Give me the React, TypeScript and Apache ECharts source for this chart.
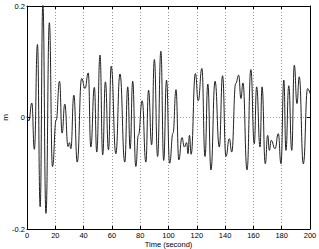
import React, { useEffect, useRef } from "react";
import * as echarts from "echarts";

// Time (s) of each local extremum / shape point, and displacement (m)
const times: number[] = [
  0, 1.3, 3.4, 5.2, 7.4, 9.3, 11.2, 13.4, 15.8, 18, 20.6, 23, 24.8, 26.7, 29, 30, 31, 33.1, 35.5,
  38.6, 41, 43.3, 45.1, 47.6, 49.3, 51.6, 53.5, 55.4, 57.6, 59.5, 62.8, 65.7, 69.1, 71.2, 72.9,
  74.7, 76.9, 78.7, 81.4, 84, 85.9, 88.1, 90, 92.3, 94.6, 96.6, 98.6, 100.8, 103.2, 105.3, 107.3,
  109.5, 111.2, 112.8, 113.8, 114.8, 116, 119, 121, 123.6, 125.8, 127.8, 130, 132.9, 135.9, 138.2,
  140.6, 143, 144.7, 147.5, 149.6, 151.2, 152.6, 155.5, 158.2, 160.6, 162.3, 164.7, 166.1, 168.4,
  170.1, 171.3, 172.6, 175.3, 177.6, 179.5, 181.5, 183, 185, 187.1, 188.9, 190.8, 192.4, 195.3,
  198.3, 200,
];
const values: number[] = [
  0.002, -0.006, 0.026, -0.057, 0.131, -0.16, 0.205, -0.172, 0.17, -0.088, -0.005, 0.065, -0.028,
  0.024, -0.052, -0.045, -0.056, 0.04, -0.08, 0.07, 0.052, 0.08, -0.053, 0.054, -0.062, 0.112,
  -0.067, 0.064, -0.058, 0.092, -0.065, 0.078, -0.08, 0.055, -0.056, 0.065, -0.088, -0.032, 0.03,
  -0.08, 0.049, -0.049, 0.104, -0.07, 0.119, -0.077, 0.067, -0.082, -0.028, 0.05, -0.076, -0.036,
  -0.053, -0.045, -0.065, -0.032, -0.066, 0.079, 0.03, 0.088, -0.07, 0.06, -0.094, 0.065, -0.053,
  0.075, -0.07, -0.038, -0.062, 0.061, 0.076, 0.034, 0.062, -0.094, 0.086, -0.047, 0.055, -0.053,
  0.055, -0.083, -0.032, -0.059, -0.041, -0.056, -0.029, -0.083, 0.067, -0.059, 0.057, -0.059,
  0.094, 0.025, 0.073, -0.083, 0.052, 0.043,
];

const xTicks = { min: 0, max: 200, interval: 20 };
const yTicks = { min: -0.2, max: 0.2, interval: 0.2 };

export default function App() {
  const ref = useRef<HTMLDivElement>(null);
  useEffect(() => {
    document.body.style.margin = "0";
    if (!ref.current) return;
    const chart = echarts.init(ref.current, undefined, { renderer: "svg" });
    const font = "Liberation Sans, Arial, Helvetica, sans-serif";
    const data = times.map((t, i) => [t, values[i]]);
    const frame = { show: true, lineStyle: { color: "#000", width: 1 } };
    const tick = { show: true, inside: true, length: 3, lineStyle: { color: "#000" } };
    chart.setOption({
      animation: false,
      backgroundColor: "#fff",
      grid: {
        left: 27,
        top: 6,
        right: 9,
        bottom: 20,
        containLabel: false,
        outerBoundsMode: "none",
      },
      xAxis: [
        {
          type: "value",
          ...xTicks,
          name: "Time (second)",
          nameLocation: "middle",
          nameGap: 11,
          nameMoveOverlap: false,
          nameTextStyle: { fontSize: 7.5, fontFamily: font, color: "#000", lineHeight: 8 },
          axisLine: { ...frame, onZero: false },
          axisTick: tick,
          axisLabel: { fontSize: 7.5, fontFamily: font, color: "#000", margin: 2, lineHeight: 8 },
          splitLine: { show: true, lineStyle: { color: "#999", type: [1, 2], width: 1 } },
        },
        {
          type: "value",
          position: "top",
          ...xTicks,
          axisLine: { ...frame, onZero: false },
          axisTick: tick,
          axisLabel: { show: false },
          splitLine: { show: false },
        },
      ],
      yAxis: [
        {
          type: "value",
          ...yTicks,
          name: "m",
          nameLocation: "middle",
          nameGap: 18,
          nameMoveOverlap: false,
          nameTextStyle: { fontSize: 8, fontFamily: font, color: "#000" },
          axisLine: { ...frame, onZero: false },
          axisTick: tick,
          axisLabel: {
            fontSize: 7.5,
            fontFamily: font,
            color: "#000",
            margin: 2,
            formatter: (v: number) => (Math.abs(v) < 1e-9 ? "0" : String(Math.round(v * 10) / 10)),
          },
          splitLine: { show: true, lineStyle: { color: "#999", type: [1, 2], width: 1 } },
        },
        {
          type: "value",
          position: "right",
          ...yTicks,
          axisLine: { ...frame, onZero: false },
          axisTick: tick,
          axisLabel: { show: false },
          splitLine: { show: false },
        },
      ],
      series: [
        {
          type: "line",
          data,
          xAxisIndex: 0,
          yAxisIndex: 0,
          showSymbol: false,
          smooth: 0.5,
          smoothMonotone: "x",
          clip: true,
          lineStyle: { color: "#222", width: 1 },
        },
      ],
    });
    return () => chart.dispose();
  }, []);
  return <div ref={ref} style={{ width: 319, height: 249 }} />;
}
